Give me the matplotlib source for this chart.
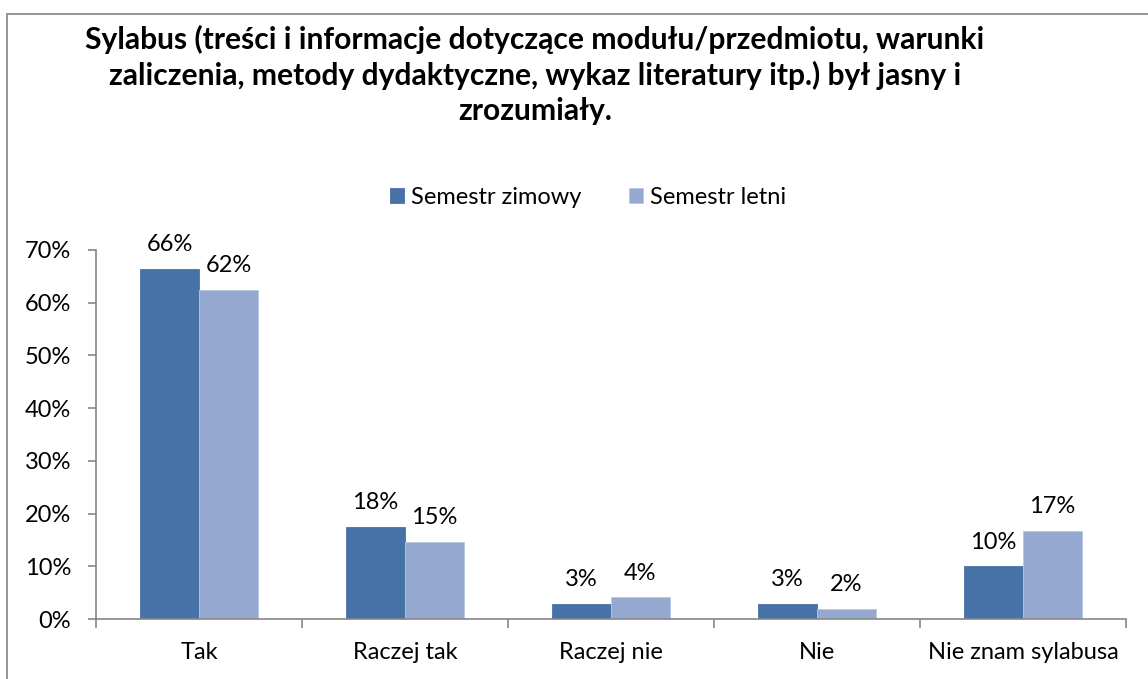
import numpy as np
import matplotlib
matplotlib.use("Agg")
import matplotlib.pyplot as plt
from matplotlib.patches import Rectangle
from matplotlib.ticker import FuncFormatter, FixedLocator

plt.rcParams['font.family'] = ['Lato', 'DejaVu Sans']

# Dane ankiety
kategorie = ["Tak", "Raczej tak", "Raczej nie", "Nie", "Nie znam sylabusa"]
serie = ["Semestr zimowy", "Semestr letni"]
zimowy = [0.664, 0.175, 0.029, 0.029, 0.100]
letni = [0.624, 0.147, 0.041, 0.019, 0.167]
kolory = ["#4672A8", "#95A9D0"]
tytul = ("Sylabus (treści i informacje dotyczące modułu/przedmiotu, warunki\n"
         "zaliczenia, metody dydaktyczne, wykaz literatury itp.) był jasny i\n"
         "zrozumiały.")

FS = 17  # rozmiar czcionki opisów

W, H = 1148, 679
fig = plt.figure(figsize=(W / 100, H / 100), dpi=100)
ax = fig.add_axes([96 / W, 1 - 619 / H, (1126 - 96) / W, (619 - 250) / H])

# ramka wykresu
fig.patches.append(Rectangle((7 / W, -0.05), 1.1, 0.05 + (H - 14) / H,
                             transform=fig.transFigure, fill=False,
                             edgecolor="#8C8C8C", linewidth=1.3))

x = np.arange(len(kategorie))
szer = 1 / 3.5
for i, (vals, nazwa) in enumerate(zip([zimowy, letni], serie)):
    pos = x + (i - 0.5) * szer
    ax.bar(pos, vals, width=szer, color=kolory[i], edgecolor="#B9C8E2" if i else kolory[i],
           linewidth=0.6, label=nazwa)
    for px, v in zip(pos, vals):
        ax.text(px, v + 0.026, "{:.0%}".format(v), ha="center", va="bottom",
                fontsize=FS, color="black")

ax.set_xlim(-0.5, len(kategorie) - 0.5)
ax.set_ylim(0, 0.70)
ax.set_yticks(np.arange(0, 0.71, 0.1))
ax.yaxis.set_major_formatter(FuncFormatter(lambda v, p: "{:.0%}".format(v)))

# podziałki między kategoriami, podpisy pośrodku
ax.xaxis.set_major_locator(FixedLocator(np.arange(-0.5, len(kategorie), 1.0)))
ax.xaxis.set_major_formatter(FuncFormatter(lambda v, p: ""))
ax.xaxis.set_minor_locator(FixedLocator(x))
ax.set_xticklabels(kategorie, minor=True)
ax.tick_params(axis="x", which="major", length=6.5, width=1.2, color="#868686", direction="out")
ax.tick_params(axis="x", which="minor", length=0, pad=16.5, labelsize=FS)
ax.tick_params(axis="y", length=6, width=1.2, color="#868686", pad=12, labelsize=FS)

for s in ["top", "right"]:
    ax.spines[s].set_visible(False)
for s in ["left", "bottom"]:
    ax.spines[s].set_color("#868686")
    ax.spines[s].set_linewidth(1.2)

fig.text(535 / W, 1 - 75 / H, tytul, ha="center", va="center", fontsize=21.6,
         fontweight="bold", linespacing=1.3)

ax.legend(loc="center", bbox_to_anchor=(588 / W, 1 - 197 / H), bbox_transform=fig.transFigure,
          ncol=2, frameon=False, fontsize=FS, handlelength=0.6, handleheight=0.6,
          handletextpad=0.3, columnspacing=2.0)

fig.savefig("out.png", dpi=100)
